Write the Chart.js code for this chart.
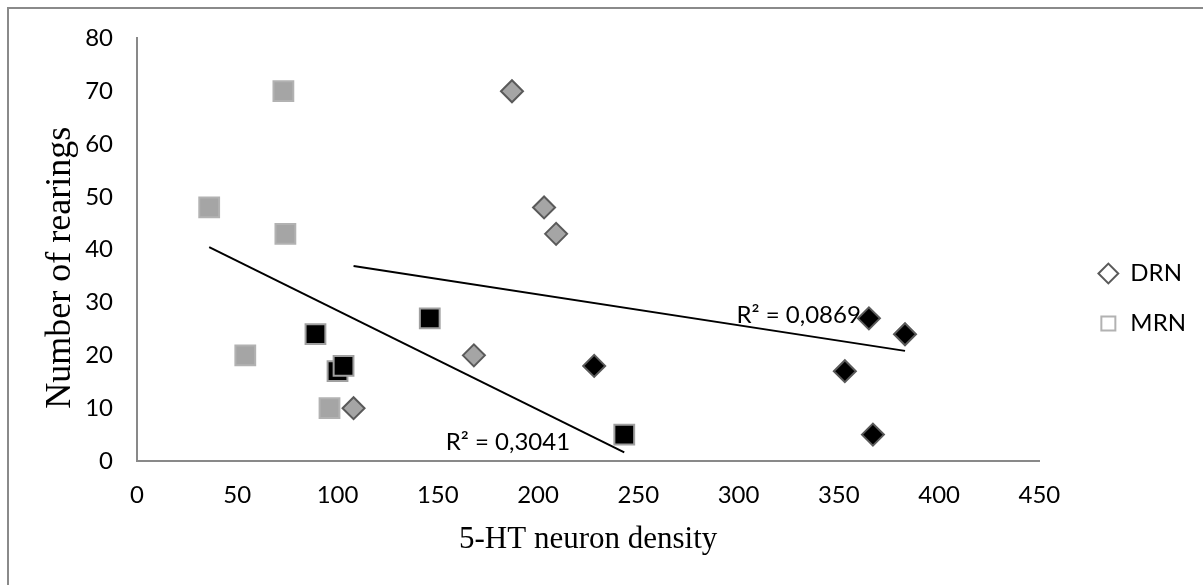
<!DOCTYPE html>
<html>
<head>
<meta charset="utf-8">
<title>Rearings vs 5-HT neuron density</title>
<script src="https://cdn.jsdelivr.net/npm/chart.js@4.4.1/dist/chart.umd.min.js"></script>
<style>
  html, body { margin: 0; padding: 0; background: #fff; }
  #wrap { position: relative; width: 1203px; height: 585px; overflow: hidden; }
  #frame { position: absolute; left: 7px; top: 7px; width: 1300px; height: 700px;
           border-left: 2px solid #8a8a8a; border-top: 2px solid #8a8a8a; }
  #scatter { position: absolute; left: 0; top: 0; }
</style>
</head>
<body>
<div id="wrap">
  <div id="frame"></div>
  <canvas id="scatter" width="1203" height="585"></canvas>
</div>
<script>
// first five points of each series are the grey group, last five the black group
var drnX = [187, 203, 209, 168, 108, 365, 383, 228, 353, 367];
var drnY = [70, 48, 43, 20, 10, 27, 24, 18, 17, 5];
var mrnX = [73, 36, 74, 54, 96, 89, 100, 103, 146, 243];
var mrnY = [70, 48, 43, 20, 10, 24, 17, 18, 27, 5];
var seriesNames = ['DRN', 'MRN'];
var r2Labels = ['R² = 0,0869', 'R² = 0,3041'];

var GREY = '#a5a5a5';
var tickFont = { family: 'Lato', size: 24 };

function toPoints(xs, ys) {
    return xs.map(function (x, i) { return { x: x, y: ys[i] }; });
}

// least squares line, drawn from smallest to largest x
function trend(xs, ys) {
    var n = xs.length, mx = 0, my = 0, sxy = 0, sxx = 0, i;
    for (i = 0; i < n; i++) { mx += xs[i]; my += ys[i]; }
    mx /= n; my /= n;
    for (i = 0; i < n; i++) {
        sxy += (xs[i] - mx) * (ys[i] - my);
        sxx += (xs[i] - mx) * (xs[i] - mx);
    }
    var b = sxy / sxx, a = my - b * mx;
    var lo = Math.min.apply(null, xs), hi = Math.max.apply(null, xs);
    return [{ x: lo, y: a + b * lo }, { x: hi, y: a + b * hi }];
}

function groupFill(c) {
    return c.dataIndex < 5 ? GREY : '#000';
}

// Excel puts the legend a little further out than Chart.js does
var legendNudge = {
    id: 'legendNudge',
    afterLayout: function (chart) {
        var l = chart.legend;
        l.left += 33; l.right += 33;
        l.top -= 13; l.bottom -= 13;
    }
};

var r2Text = {
    id: 'r2Text',
    afterDatasetsDraw: function (chart) {
        var ctx = chart.ctx, xs = chart.scales.x, ys = chart.scales.y;
        ctx.save();
        ctx.font = '24px Lato';
        ctx.fillStyle = '#000';
        ctx.textAlign = 'center';
        ctx.textBaseline = 'middle';
        ctx.fillText(r2Labels[0], xs.getPixelForValue(330), ys.getPixelForValue(27.6));
        ctx.fillText(r2Labels[1], xs.getPixelForValue(185), ys.getPixelForValue(3.6));
        ctx.restore();
    }
};

var ctx = document.getElementById('scatter').getContext('2d');
var chart = new Chart(ctx, {
    type: 'scatter',
    data: {
        datasets: [{
            label: seriesNames[0],
            data: toPoints(drnX, drnY),
            pointStyle: 'rectRot',
            pointRadius: 11,
            pointHoverRadius: 11,
            pointBorderWidth: 2,
            pointBackgroundColor: groupFill,
            pointBorderColor: '#5a5a5a',
            order: 1
        }, {
            label: seriesNames[1],
            data: toPoints(mrnX, mrnY),
            pointStyle: 'rect',
            pointRadius: 14,
            pointHoverRadius: 14,
            pointBorderWidth: 2,
            pointBackgroundColor: groupFill,
            pointBorderColor: function (c) { return c.dataIndex < 5 ? '#b2b2b2' : '#a0a0a0'; },
            order: 1
        }, {
            label: 'DRN trend',
            data: trend(drnX, drnY),
            showLine: true,
            borderColor: '#000',
            borderWidth: 2,
            pointRadius: 0,
            order: 0
        }, {
            label: 'MRN trend',
            data: trend(mrnX, mrnY),
            showLine: true,
            borderColor: '#000',
            borderWidth: 2,
            pointRadius: 0,
            order: 0
        }]
    },
    options: {
        responsive: false,
        animation: false,
        layout: { padding: { top: 38, right: 40, bottom: 0, left: 0 } },
        scales: {
            x: {
                type: 'linear',
                min: 0,
                max: 450,
                ticks: { stepSize: 50, padding: 20, color: '#000', font: tickFont },
                grid: { display: false, drawTicks: false },
                border: { color: '#898989', width: 2 },
                title: {
                    display: true,
                    text: '5-HT neuron density',
                    color: '#000',
                    font: { family: 'Liberation Serif', size: 31 },
                    padding: { top: 0, bottom: 27 }
                },
                afterFit: function (s) { s.height = 124; }
            },
            y: {
                min: 0,
                max: 80,
                ticks: { stepSize: 10, padding: 24, color: '#000', font: tickFont },
                grid: { display: false, drawTicks: false },
                border: { color: '#898989', width: 2 },
                title: {
                    display: true,
                    // trailing spaces push the title a bit lower, as in the original
                    text: 'Number of rearings    ',
                    color: '#000',
                    font: { family: 'Liberation Serif', size: 36 },
                    padding: { top: 39, bottom: 0 }
                },
                afterFit: function (s) { s.width = 137; }
            }
        },
        plugins: {
            tooltip: { enabled: false },
            legend: {
                position: 'right',
                labels: {
                    usePointStyle: true,
                    boxWidth: 20,
                    boxHeight: 14,
                    padding: 26,
                    color: '#000',
                    font: tickFont,
                    generateLabels: function () {
                        return [
                            { text: seriesNames[0], fillStyle: '#fff', strokeStyle: '#5a5a5a', lineWidth: 2,
                              pointStyle: 'rectRot', hidden: false, datasetIndex: 0 },
                            { text: seriesNames[1], fillStyle: '#fff', strokeStyle: '#b2b2b2', lineWidth: 2,
                              pointStyle: 'rect', hidden: false, datasetIndex: 1 }
                        ];
                    }
                }
            }
        }
    },
    plugins: [legendNudge, r2Text]
});
</script>
</body>
</html>
